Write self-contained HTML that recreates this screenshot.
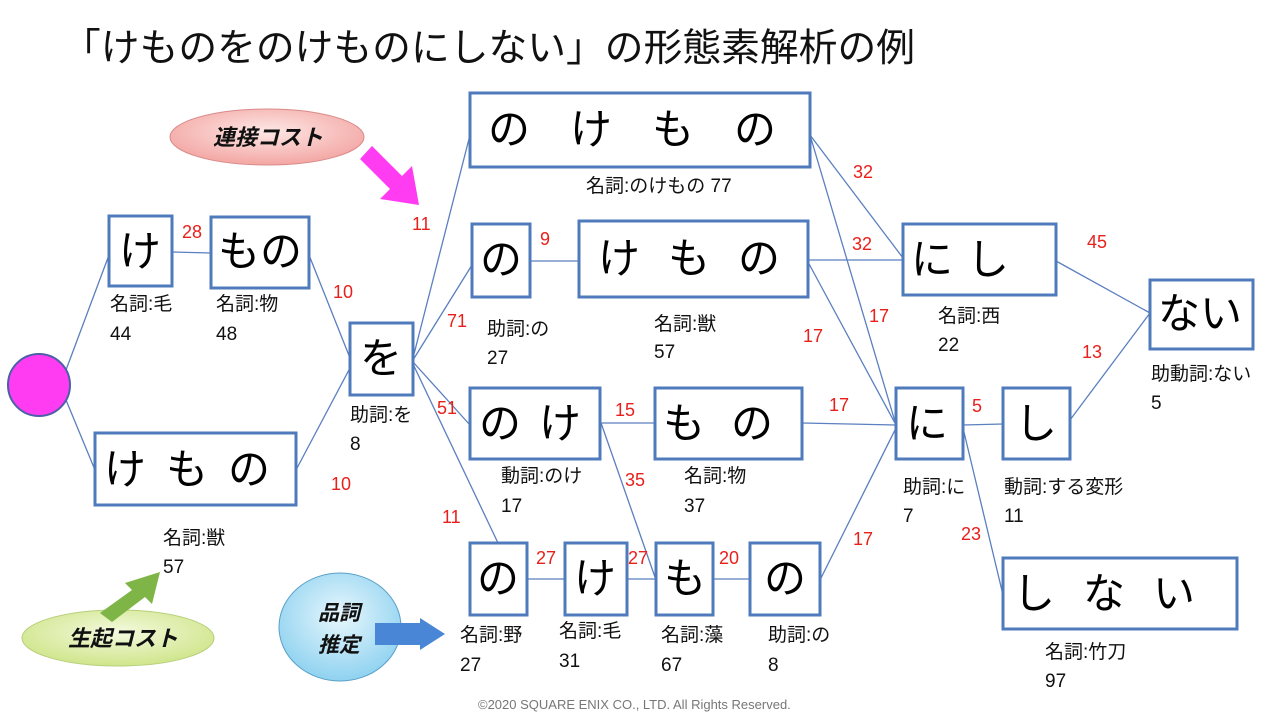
<!DOCTYPE html>
<html><head><meta charset="utf-8"><style>
html,body{margin:0;padding:0;background:#fff;}
svg{display:block;font-family:"Liberation Sans","Noto Sans CJK JP",sans-serif;}
.b{fill:#fff;stroke:#4f7bbd;stroke-width:3}
.l{stroke:#5b7fbf;stroke-width:1.3;fill:none}
.big{font-size:42px;fill:#000}
.s{font-size:19px;fill:#111}
.r{font-size:18px;fill:#e8201c}
</style></head><body>
<svg width="1280" height="720" viewBox="0 0 1280 720">
<rect width="1280" height="720" fill="#fff"/>
<text x="62" y="61" font-size="38.5" fill="#111" textLength="853" lengthAdjust="spacingAndGlyphs">「けものをのけものにしない」の形態素解析の例</text>
<defs>
<radialGradient id="pk" cx="50%" cy="40%" r="60%"><stop offset="0" stop-color="#fde8e6"/><stop offset="1" stop-color="#f3a6a3"/></radialGradient>
<radialGradient id="gr" cx="50%" cy="40%" r="60%"><stop offset="0" stop-color="#f4fadf"/><stop offset="1" stop-color="#cfe58a"/></radialGradient>
<radialGradient id="bl" cx="50%" cy="40%" r="60%"><stop offset="0" stop-color="#e8f7fd"/><stop offset="1" stop-color="#8fd2f0"/></radialGradient>
</defs>
<g class="l">
<line x1="66" y1="370" x2="109" y2="255"/>
<line x1="66" y1="400" x2="95" y2="470"/>
<line x1="172" y1="252" x2="211" y2="253"/>
<line x1="309" y1="255" x2="350" y2="358"/>
<line x1="296" y1="470" x2="350" y2="368"/>
<line x1="413" y1="358" x2="470" y2="135"/>
<line x1="413" y1="360" x2="472" y2="265"/>
<line x1="413" y1="362" x2="470" y2="425"/>
<line x1="413" y1="364" x2="498" y2="543"/>
<line x1="530" y1="261" x2="579" y2="261"/>
<line x1="810" y1="135" x2="903" y2="258"/>
<line x1="810" y1="135" x2="896" y2="425"/>
<line x1="808" y1="260" x2="903" y2="260"/>
<line x1="808" y1="262" x2="896" y2="425"/>
<line x1="600" y1="423" x2="655" y2="423"/>
<line x1="600" y1="420" x2="656" y2="580"/>
<line x1="802" y1="423" x2="896" y2="425"/>
<line x1="527" y1="579" x2="565" y2="579"/>
<line x1="627" y1="579" x2="656" y2="579"/>
<line x1="713" y1="579" x2="750" y2="579"/>
<line x1="820" y1="580" x2="896" y2="428"/>
<line x1="963" y1="425" x2="1003" y2="424"/>
<line x1="963" y1="428" x2="1003" y2="595"/>
<line x1="1056" y1="261" x2="1150" y2="313"/>
<line x1="1070" y1="420" x2="1150" y2="313"/>
</g>
<circle cx="39" cy="385" r="31" fill="#ff3cf2" stroke="#4b5fa8" stroke-width="2"/>
<rect class="b" x="109" y="216" width="63" height="70"/><text class="big" x="119" y="266">け</text>
<rect class="b" x="211" y="217" width="98" height="71"/><text class="big" x="218" y="266">もの</text>
<rect class="b" x="95" y="433" width="201" height="72"/><text class="big" x="104" y="484" letter-spacing="20">けもの</text>
<rect class="b" x="350" y="323" width="63" height="72"/><text class="big" x="360" y="373">を</text>
<rect class="b" x="470" y="93" width="340" height="74"/><text class="big" x="488" y="144" letter-spacing="40">のけもの</text>
<rect class="b" x="472" y="224" width="58" height="73"/><text class="big" x="480" y="274">の</text>
<rect class="b" x="579" y="221" width="229" height="76"/><text class="big" x="598" y="273" letter-spacing="28">けもの</text>
<rect class="b" x="470" y="388" width="130" height="71"/><text class="big" x="479" y="438" letter-spacing="18">のけ</text>
<rect class="b" x="655" y="388" width="147" height="71"/><text class="big" x="663" y="438" letter-spacing="26">もの</text>
<rect class="b" x="470" y="543" width="57" height="72"/><text class="big" x="477" y="593">の</text>
<rect class="b" x="565" y="543" width="62" height="72"/><text class="big" x="574" y="593">け</text>
<rect class="b" x="656" y="543" width="57" height="72"/><text class="big" x="664" y="593">も</text>
<rect class="b" x="750" y="543" width="70" height="72"/><text class="big" x="764" y="593">の</text>
<rect class="b" x="903" y="224" width="153" height="71"/><text class="big" x="911" y="274" letter-spacing="14">にし</text>
<rect class="b" x="896" y="388" width="67" height="71"/><text class="big" x="906" y="438">に</text>
<rect class="b" x="1003" y="388" width="67" height="71"/><text class="big" x="1015" y="438">し</text>
<rect class="b" x="1150" y="280" width="103" height="69"/><text class="big" x="1158" y="328">ない</text>
<rect class="b" x="1003" y="558" width="234" height="71"/><text class="big" x="1013" y="608" letter-spacing="28">しない</text>
<g class="s">
<text x="110" y="310">名詞:毛</text><text x="110" y="340">44</text>
<text x="216" y="310">名詞:物</text><text x="216" y="340">48</text>
<text x="163" y="544">名詞:獣</text><text x="163" y="573">57</text>
<text x="350" y="421">助詞:を</text><text x="350" y="450">8</text>
<text x="586" y="192">名詞:のけもの 77</text>
<text x="487" y="335">助詞:の</text><text x="487" y="364">27</text>
<text x="654" y="330">名詞:獣</text><text x="654" y="358">57</text>
<text x="501" y="482">動詞:のけ</text><text x="501" y="512">17</text>
<text x="684" y="482">名詞:物</text><text x="684" y="512">37</text>
<text x="460" y="641">名詞:野</text><text x="460" y="671">27</text>
<text x="559" y="637">名詞:毛</text><text x="559" y="667">31</text>
<text x="661" y="641">名詞:藻</text><text x="661" y="671">67</text>
<text x="768" y="641">助詞:の</text><text x="768" y="671">8</text>
<text x="938" y="322">名詞:西</text><text x="938" y="351">22</text>
<text x="903" y="493">助詞:に</text><text x="903" y="522">7</text>
<text x="1004" y="493">動詞:する変形</text><text x="1004" y="522">11</text>
<text x="1151" y="380">助動詞:ない</text><text x="1151" y="409">5</text>
<text x="1045" y="658">名詞:竹刀</text><text x="1045" y="687">97</text>
</g>
<g class="r">
<text x="182" y="238">28</text><text x="333" y="298">10</text><text x="331" y="490">10</text>
<text x="412" y="230">11</text><text x="447" y="327">71</text><text x="437" y="414">51</text><text x="442" y="523">11</text>
<text x="540" y="245">9</text><text x="615" y="416">15</text><text x="625" y="486">35</text>
<text x="536" y="564">27</text><text x="628" y="564">27</text><text x="719" y="564">20</text>
<text x="853" y="178">32</text><text x="852" y="250">32</text><text x="869" y="322">17</text><text x="803" y="342">17</text>
<text x="829" y="411">17</text><text x="853" y="545">17</text>
<text x="1087" y="248">45</text><text x="1082" y="358">13</text><text x="972" y="412">5</text><text x="961" y="540">23</text>
</g>
<ellipse cx="267" cy="137" rx="97" ry="28" fill="url(#pk)" stroke="#d98a88" stroke-width="1"/>
<text x="213" y="145" font-size="22" font-style="italic" font-weight="bold" fill="#111">連接コスト</text>
<polygon points="372,146 402,176 412,166 419,205 380,199 390,189 360,159" fill="#ff3cf2"/>
<ellipse cx="118" cy="638" rx="96" ry="28" fill="url(#gr)" stroke="#b8cf7c" stroke-width="1"/>
<text x="68" y="646" font-size="22" font-style="italic" font-weight="bold" fill="#111">生起コスト</text>
<polygon points="100,613 132,590 125,583 160,572 152,604 145,597 112,622" fill="#7fb446"/>
<ellipse cx="340" cy="627" rx="61" ry="54" fill="url(#bl)" stroke="#5aa0c8" stroke-width="1"/>
<text x="318" y="620" font-size="21" font-style="italic" font-weight="bold" fill="#111">品詞</text>
<text x="318" y="652" font-size="21" font-style="italic" font-weight="bold" fill="#111">推定</text>
<polygon points="375,623 420,623 420,618 445,634 420,650 420,645 375,645" fill="#4a86d6"/>
<text x="478" y="709" font-size="13" fill="#777">©2020 SQUARE ENIX CO., LTD. All Rights Reserved.</text>
</svg>
</body></html>
